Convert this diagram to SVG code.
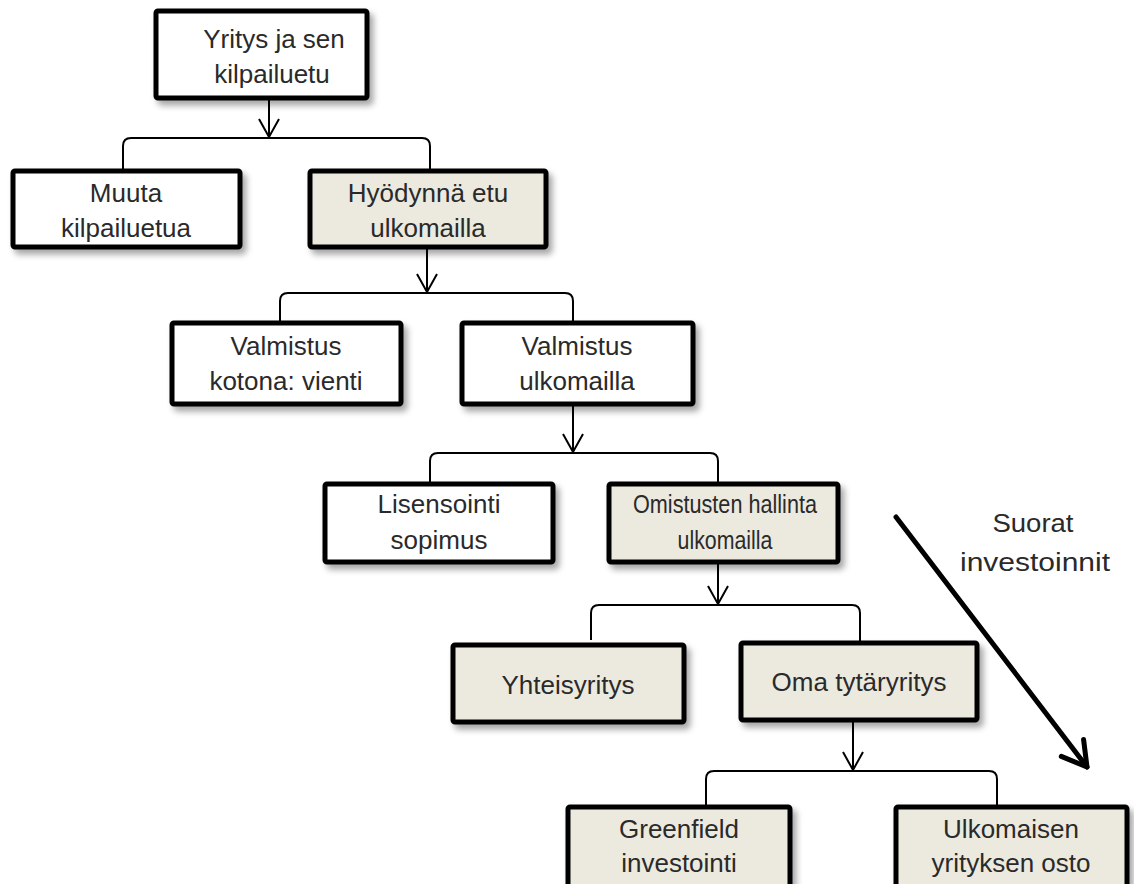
<svg xmlns="http://www.w3.org/2000/svg" width="1134" height="884" viewBox="0 0 1134 884">
<defs>
<filter id="sh" x="-10%" y="-10%" width="130%" height="140%">
<feDropShadow dx="4" dy="5" stdDeviation="3" flood-color="#000" flood-opacity="0.35"/>
</filter>
<marker id="ah" markerWidth="22" markerHeight="22" refX="19" refY="11" orient="auto" markerUnits="userSpaceOnUse" viewBox="0 0 22 22">
<path d="M1,1 L19,11 L1,21" fill="none" stroke="#000" stroke-width="2"/>
</marker>
<marker id="bh" markerWidth="40" markerHeight="40" refX="36" refY="20" orient="auto" markerUnits="userSpaceOnUse" viewBox="0 0 40 40">
<path d="M12,6 L36,20 L12,34" fill="none" stroke="#000" stroke-width="5" stroke-linecap="round" stroke-linejoin="round"/>
</marker>
</defs>
<style>
.box{stroke:#000;stroke-width:5;filter:url(#sh)}
.w{fill:#fff}
.b{fill:#ECE9DF}
text{font-family:"Liberation Sans",Arial,sans-serif;font-size:26px;fill:#2a2a2a;text-anchor:middle}
.c{fill:none;stroke:#000;stroke-width:2}
</style>
<rect width="1134" height="884" fill="#fff"/>
<g id="connectors">
<path class="c" d="M269,99 V137" marker-end="url(#ah)"/>
<path class="c" d="M123,169 V146 Q123,138 131,138 H422 Q430,138 430,146 V169"/>
<path class="c" d="M427,248 V292" marker-end="url(#ah)"/>
<path class="c" d="M280,321 V301 Q280,293 288,293 H565 Q573,293 573,301 V321"/>
<path class="c" d="M573,405 V452" marker-end="url(#ah)"/>
<path class="c" d="M430,482 V461 Q430,453 438,453 H710 Q718,453 718,461 V482"/>
<path class="c" d="M718,563 V604" marker-end="url(#ah)"/>
<path class="c" d="M591,640 V613 Q591,605 599,605 H852 Q860,605 860,613 V641"/>
<path class="c" d="M853,721 V770" marker-end="url(#ah)"/>
<path class="c" d="M706,805 V779 Q706,771 714,771 H989 Q997,771 997,779 V805"/>
<path d="M896,517 L1087,767" fill="none" stroke="#000" stroke-width="5" stroke-linecap="round" marker-end="url(#bh)"/>
</g>
<g id="n1"><rect class="box w" x="156" y="11" width="211" height="87" rx="2"/><text x="274" y="48">Yritys ja sen</text><text x="272" y="83">kilpailuetu</text></g>
<g id="n2"><rect class="box w" x="13" y="171" width="227" height="76" rx="2"/><text x="126" y="202">Muuta</text><text x="126" y="237">kilpailuetua</text></g>
<g id="n3"><rect class="box b" x="310" y="171" width="236" height="76" rx="2"/><text x="428" y="202">Hyödynnä etu</text><text x="428" y="237">ulkomailla</text></g>
<g id="n4"><rect class="box w" x="172" y="323" width="229" height="81" rx="2"/><text x="286" y="355">Valmistus</text><text x="286" y="390">kotona: vienti</text></g>
<g id="n5"><rect class="box w" x="462" y="323" width="231" height="81" rx="2"/><text x="577" y="355">Valmistus</text><text x="577" y="390">ulkomailla</text></g>
<g id="n6"><rect class="box w" x="325" y="484" width="228" height="78" rx="2"/><text x="439" y="513">Lisensointi</text><text x="439" y="549">sopimus</text></g>
<g id="n7"><rect class="box b" x="609" y="484" width="229" height="78" rx="2"/><text x="725" y="513" textLength="184" lengthAdjust="spacingAndGlyphs">Omistusten hallinta</text><text x="725" y="549" textLength="95" lengthAdjust="spacingAndGlyphs">ulkomailla</text></g>
<g id="n8"><rect class="box b" x="453" y="645" width="231" height="77" rx="2"/><text x="568" y="694">Yhteisyritys</text></g>
<g id="n9"><rect class="box b" x="741" y="643" width="236" height="77" rx="2"/><text x="859" y="691">Oma tytäryritys</text></g>
<g id="n10"><rect class="box b" x="568" y="807" width="222" height="82" rx="2"/><text x="679" y="838">Greenfield</text><text x="679" y="872">investointi</text></g>
<g id="n11"><rect class="box b" x="896" y="807" width="231" height="82" rx="2"/><text x="1011" y="838">Ulkomaisen</text><text x="1011" y="872">yrityksen osto</text></g>
<g id="label"><text x="1033" y="532" textLength="81" lengthAdjust="spacingAndGlyphs">Suorat</text><text x="1035" y="571" textLength="150" lengthAdjust="spacingAndGlyphs">investoinnit</text></g>
</svg>
